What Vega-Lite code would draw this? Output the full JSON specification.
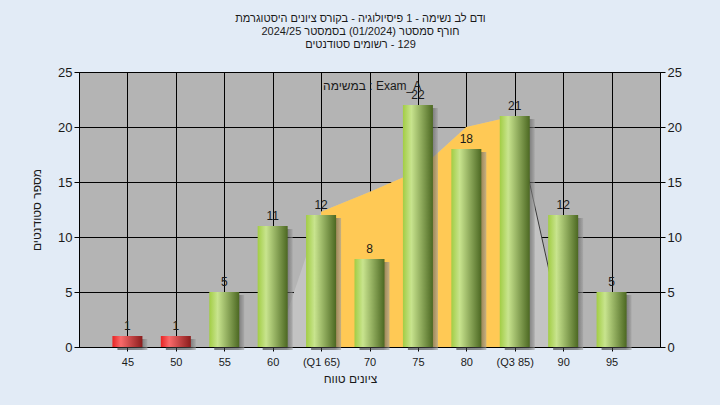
{
  "$schema": "https://vega.github.io/schema/vega-lite/v6.json",
  "width": 581,
  "height": 275,
  "autosize": {"type": "none"},
  "padding": {"left": 79, "top": 72, "right": 60, "bottom": 58},
  "background": "#e2ebf6",
  "title": {
    "text": [
      "ודם לב נשימה - 1 פיסיולוגיה - בקורס ציונים היסטוגרמת",
      "חורף סמסטר  (01/2024)  בסמסטר 2024/25",
      "רשומים סטודנטים\u200e - 129"
    ],
    "font": "Liberation Sans",
    "fontSize": 11,
    "fontWeight": "normal",
    "color": "#1a1a1a",
    "lineHeight": 13,
    "anchor": "middle",
    "offset": 16,
    "dx": -9
  },
  "datasets": {
    "bars": [
      {"score": 45, "count": 1, "grade": "fail"},
      {"score": 50, "count": 1, "grade": "fail"},
      {"score": 55, "count": 5, "grade": "pass"},
      {"score": 60, "count": 11, "grade": "pass"},
      {"score": 65, "count": 12, "grade": "pass"},
      {"score": 70, "count": 8, "grade": "pass"},
      {"score": 75, "count": 22, "grade": "pass"},
      {"score": 80, "count": 18, "grade": "pass"},
      {"score": 85, "count": 21, "grade": "pass"},
      {"score": 90, "count": 12, "grade": "pass"},
      {"score": 95, "count": 5, "grade": "pass"}
    ],
    "curve": [
      {"score": 60.3, "count": 0},
      {"score": 65, "count": 12.3},
      {"score": 70, "count": 14.1},
      {"score": 75, "count": 16.0},
      {"score": 80, "count": 20.0},
      {"score": 85, "count": 21.0},
      {"score": 90.3, "count": 0}
    ],
    "note": [{"score": 65, "count": 23.7, "label": "במשימה : Exam_A"}]
  },
  "config": {
    "view": {"fill": "#b4b4b4", "stroke": "#000000", "strokeWidth": 1},
    "axis": {
      "gridColor": "#000000",
      "gridOpacity": 1,
      "gridWidth": 1,
      "domainColor": "#000000",
      "tickColor": "#000000",
      "labelFont": "Liberation Sans",
      "labelColor": "#1a1a1a",
      "titleFont": "Liberation Sans",
      "titleFontWeight": "normal",
      "titleColor": "#1a1a1a",
      "titleFontSize": 12
    }
  },
  "encoding": {
    "x": {
      "field": "score",
      "type": "quantitative",
      "scale": {"domain": [40, 100], "nice": false, "zero": false, "padding": 0},
      "axis": {
        "values": [45, 50, 55, 60, 65, 70, 75, 80, 85, 90, 95],
        "labelExpr": "datum.value == 65 ? '(Q1 65)' : datum.value == 85 ? '(Q3 85)' : datum.label",
        "title": "ציונים טווח",
        "grid": true,
        "tickSize": 4,
        "labelPadding": 5,
        "labelFontSize": 11,
        "titlePadding": 6,
        "titleX": 271
      }
    }
  },
  "layer": [
    {
      "data": {"name": "curve"},
      "mark": {"type": "area", "color": "#c3c3c3", "opacity": 1},
      "encoding": {"y": {"field": "count", "type": "quantitative", "axis": null}}
    },
    {
      "data": {"name": "curve"},
      "transform": [{"filter": "datum.score >= 65 && datum.score <= 85"}],
      "mark": {"type": "area", "color": "#ffc955", "opacity": 1},
      "encoding": {"y": {"field": "count", "type": "quantitative", "axis": null}}
    },
    {
      "data": {"name": "curve"},
      "transform": [{"filter": "datum.score >= 85"}],
      "mark": {"type": "line", "color": "#3a3a3a", "strokeWidth": 1},
      "encoding": {"y": {"field": "count", "type": "quantitative", "axis": null}}
    },
    {
      "data": {"name": "bars"},
      "mark": {
        "type": "bar",
        "width": 30,
        "xOffset": 5,
        "yOffset": 3,
        "opacity": 0.6,
        "color": {
          "gradient": "linear", "x1": 0, "y1": 0, "x2": 1, "y2": 0,
          "stops": [
            {"offset": 0, "color": "#303030"},
            {"offset": 0.8, "color": "#505050"},
            {"offset": 1, "color": "#a0a0a0"}
          ]
        }
      },
      "encoding": {"y": {"field": "count", "type": "quantitative", "axis": null}}
    },
    {
      "data": {"name": "bars"},
      "transform": [{"filter": "datum.grade == 'fail'"}],
      "mark": {
        "type": "bar",
        "width": 30,
        "color": {
          "gradient": "linear", "x1": 0, "y1": 0, "x2": 1, "y2": 0,
          "stops": [
            {"offset": 0, "color": "#e82424"},
            {"offset": 0.28, "color": "#fa6a6a"},
            {"offset": 1, "color": "#8a1c1c"}
          ]
        }
      },
      "encoding": {"y": {"field": "count", "type": "quantitative", "axis": null}}
    },
    {
      "data": {"name": "bars"},
      "transform": [{"filter": "datum.grade == 'pass'"}],
      "mark": {
        "type": "bar",
        "width": 30,
        "color": {
          "gradient": "linear", "x1": 0, "y1": 0, "x2": 1, "y2": 0,
          "stops": [
            {"offset": 0, "color": "#a2cd44"},
            {"offset": 0.28, "color": "#c8e48e"},
            {"offset": 1, "color": "#4c6822"}
          ]
        }
      },
      "encoding": {
        "y": {
          "field": "count",
          "type": "quantitative",
          "scale": {"domain": [0, 25], "nice": false},
          "axis": {
            "orient": "left",
            "values": [0, 5, 10, 15, 20, 25],
            "title": "מספר סטודנטים",
            "grid": true,
            "tickSize": 5,
            "labelPadding": 2,
            "labelFontSize": 13,
            "titlePadding": 14
          }
        }
      }
    },
    {
      "data": {"name": "bars"},
      "mark": {"type": "text", "font": "Liberation Sans", "fontSize": 12, "color": "#1a1a1a", "baseline": "bottom", "dy": -3},
      "encoding": {
        "y": {
          "field": "count",
          "type": "quantitative",
          "axis": {
            "orient": "right",
            "values": [0, 5, 10, 15, 20, 25],
            "title": null,
            "grid": false,
            "tickSize": 5,
            "labelPadding": 2,
            "labelFontSize": 13
          }
        },
        "text": {"field": "count", "type": "quantitative"}
      }
    },
    {
      "data": {"name": "note"},
      "mark": {"type": "text", "font": "Liberation Sans", "fontSize": 12, "color": "#1a1a1a", "align": "left", "baseline": "middle", "dx": 2},
      "encoding": {
        "y": {"field": "count", "type": "quantitative", "axis": null},
        "text": {"field": "label"}
      }
    }
  ],
  "resolve": {"axis": {"y": "independent"}}
}
